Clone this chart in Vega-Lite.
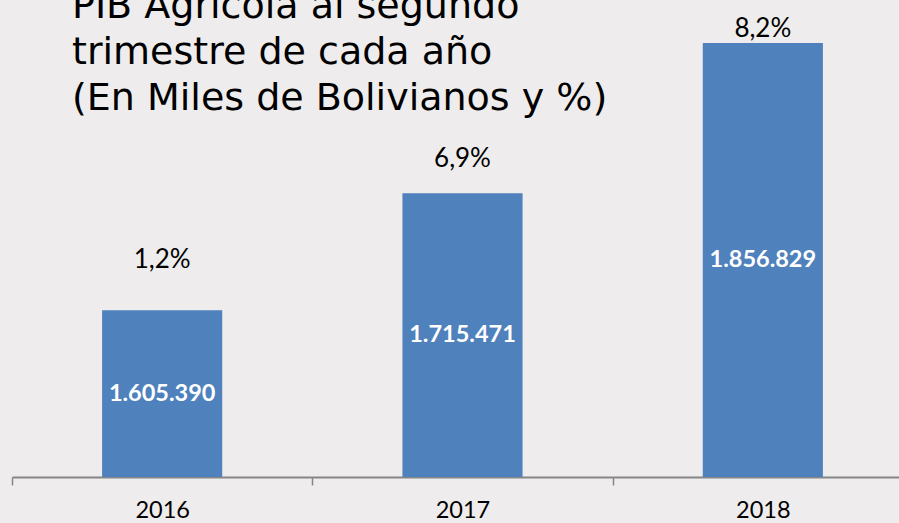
{
  "$schema": "https://vega.github.io/schema/vega-lite/v6.json",
  "width": 899,
  "height": 477,
  "autosize": {"type": "none"},
  "padding": {"top": 0, "left": 0, "right": 0, "bottom": 46},
  "background": "#EEECEC",
  "config": {
    "view": {"stroke": null},
    "locale": {"number": {"decimal": ",", "thousands": ".", "grouping": [3], "currency": ["", ""]}}
  },
  "title": {
    "text": ["PIB Agrícola al segundo", "trimestre de cada año", "(En Miles de Bolivianos y %)"],
    "anchor": "start",
    "frame": "group",
    "orient": "top",
    "offset": -118,
    "dx": 72,
    "font": "DejaVu Sans",
    "fontSize": 38,
    "fontWeight": "normal",
    "color": "#000000",
    "lineHeight": 46
  },
  "data": {
    "values": [
      {"year": "2016", "value": 1605390, "pct": 0.012},
      {"year": "2017", "value": 1715471, "pct": 0.069},
      {"year": "2018", "value": 1856829, "pct": 0.082}
    ]
  },
  "encoding": {
    "x": {
      "field": "year",
      "type": "nominal",
      "scale": {"range": [12, 913], "paddingInner": 0.6, "paddingOuter": 0.3},
      "axis": {
        "title": null,
        "labelAngle": 0,
        "labelFont": "Lato",
        "labelFontSize": 23.5,
        "labelColor": "#000000",
        "labelBaseline": "middle",
        "labelPadding": 25,
        "tickOffset": -150.17,
        "labelOffset": 150.17,
        "tickSize": 8,
        "tickColor": "#868686",
        "tickWidth": 1.5,
        "domainColor": "#868686",
        "domainWidth": 2
      }
    }
  },
  "layer": [
    {
      "mark": {"type": "bar", "color": "#4F81BD", "clip": true},
      "encoding": {
        "y": {"field": "value", "type": "quantitative", "scale": {"domain": [1448700, 1897200], "zero": false, "nice": false}, "axis": null}
      }
    },
    {
      "mark": {"type": "text", "color": "#FFFFFF", "font": "Lato", "fontWeight": "bold", "fontSize": 23.5, "baseline": "middle"},
      "encoding": {
        "y": {"field": "value", "type": "quantitative", "scale": {"domain": [1448700, 2345600], "zero": false, "nice": false}, "axis": null},
        "text": {"field": "value", "type": "quantitative", "format": ",d"}
      }
    },
    {
      "mark": {"type": "text", "color": "#000000", "font": "Lato", "fontSize": 26, "baseline": "middle"},
      "encoding": {
        "y": {"field": "value", "type": "quantitative", "scale": {"domain": [1370070, 1887947], "zero": false, "nice": false}, "axis": null},
        "text": {"field": "pct", "type": "quantitative", "format": ".1%"}
      }
    }
  ],
  "resolve": {"scale": {"y": "independent"}}
}
